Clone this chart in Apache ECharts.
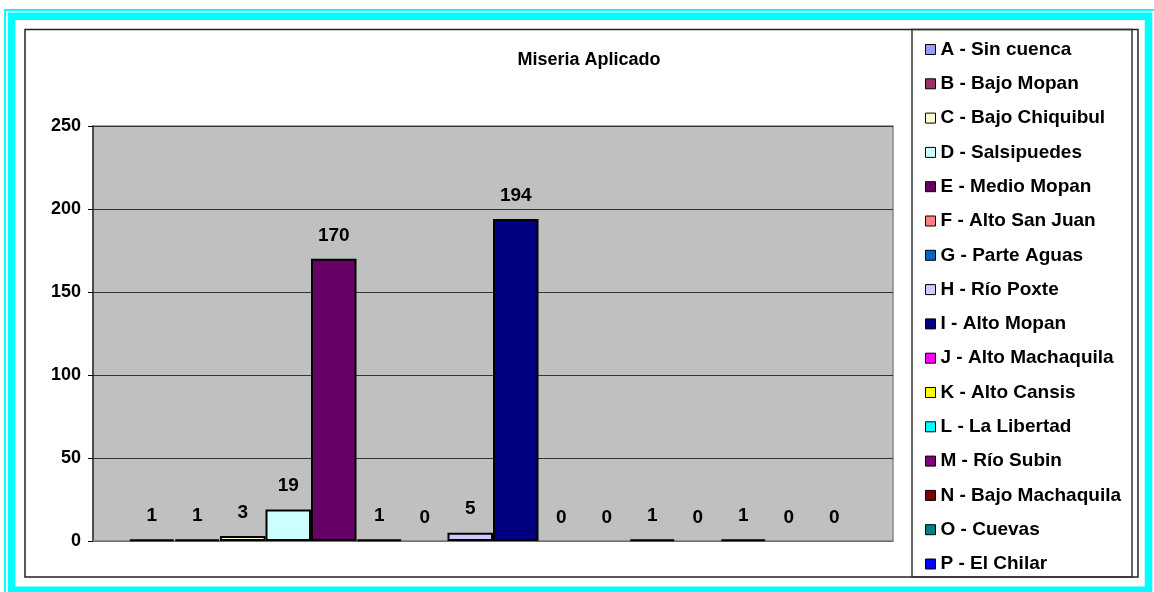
<!DOCTYPE html>
<html>
<head>
<meta charset="utf-8">
<script src="https://cdn.jsdelivr.net/npm/echarts@6/dist/echarts.min.js"></script>
<style>
  html, body { margin: 0; padding: 0; background: #fff; }
  #chart { width: 1154px; height: 592px; }
</style>
</head>
<body>
<div id="chart"></div>
<script>
// data
const titleText = 'Miseria Aplicado'
const seriesNames = [
  'A - Sin cuenca', 'B - Bajo Mopan', 'C - Bajo Chiquibul', 'D - Salsipuedes',
  'E - Medio Mopan', 'F - Alto San Juan', 'G - Parte Aguas', 'H - Río Poxte',
  'I - Alto Mopan', 'J - Alto Machaquila', 'K - Alto Cansis', 'L - La Libertad',
  'M - Río Subin', 'N - Bajo Machaquila', 'O - Cuevas', 'P - El Chilar'
]
const values = [1, 1, 3, 19, 170, 1, 0, 5, 194, 0, 0, 1, 0, 1, 0, 0]
const colors = [
  '#9999FF', '#993366', '#FFFFCC', '#CCFFFF', '#660066', '#FF8080', '#0066CC', '#CCCCFF',
  '#000080', '#FF00FF', '#FFFF00', '#00FFFF', '#800080', '#800000', '#008080', '#0000FF'
]
const yTicks = [0, 50, 100, 150, 200, 250]

const font = '"Liberation Sans", Arial, sans-serif'

const chart = echarts.init(document.getElementById('chart'))

const series = seriesNames.map((name, i) => ({
  name: name,
  type: 'bar',
  barGap: 0,
  barCategoryGap: '9%',
  data: [{
    value: values[i],
    itemStyle: values[i] === 0 ? { borderWidth: 0 } : {}
  }],
  itemStyle: {
    color: colors[i],
    borderColor: '#000',
    borderWidth: 2
  },
  label: {
    show: true,
    position: 'top',
    distance: 14,
    color: '#000',
    fontFamily: font,
    fontWeight: 'bold',
    fontSize: 19
  },
  emphasis: { disabled: true }
}))

const option = {
  animation: false,
  backgroundColor: '#fff',
  title: {
    text: titleText,
    left: 584,
    textAlign: 'center',
    top: 46,
    textStyle: {
      fontFamily: font,
      fontWeight: 'bold',
      fontSize: 18,
      color: '#000'
    }
  },
  legend: {
    orient: 'vertical',
    left: 920,
    top: 35,
    itemWidth: 10,
    itemHeight: 10,
    itemGap: 15.3,
    icon: 'rect',
    itemStyle: { borderColor: '#000', borderWidth: 1 },
    textStyle: {
      fontFamily: font,
      fontWeight: 'bold',
      fontSize: 19,
      color: '#000'
    },
    data: seriesNames
  },
  grid: {
    left: 93,
    right: 261,
    top: 126,
    bottom: 51,
    show: true,
    backgroundColor: '#C0C0C0',
    borderColor: '#888',
    borderWidth: 1.5
  },
  xAxis: {
    type: 'category',
    data: [''],
    axisLine: { show: true, lineStyle: { color: '#888', width: 1.5 } },
    axisTick: { show: false },
    axisLabel: { show: false }
  },
  yAxis: {
    type: 'value',
    min: yTicks[0],
    max: yTicks[yTicks.length - 1],
    interval: 50,
    axisLine: { show: true, lineStyle: { color: '#333', width: 1.5 } },
    axisTick: { show: true, length: 5, lineStyle: { color: '#000' } },
    axisLabel: {
      margin: 12,
      color: '#000',
      fontFamily: font,
      fontWeight: 'bold',
      fontSize: 18
    },
    splitLine: { show: true, lineStyle: { color: '#333', width: 1 } }
  },
  graphic: [
    {
      type: 'rect', silent: true, z: -1,
      shape: { x: 5, y: 10, width: 1152, height: 592 },
      style: { fill: 'none', stroke: '#00FFFF', lineWidth: 2 }
    },
    {
      type: 'rect', silent: true, z: -1,
      shape: { x: 11.5, y: 16.3, width: 1137, height: 574 },
      style: { fill: 'none', stroke: '#00FFFF', lineWidth: 7.5 }
    },
    {
      type: 'rect', silent: true, z: -1,
      shape: { x: 25, y: 29.5, width: 1113, height: 547.5 },
      style: { fill: 'none', stroke: '#222', lineWidth: 1.5 }
    },
    {
      type: 'rect', silent: true, z: -1,
      shape: { x: 912, y: 29.5, width: 220, height: 547.5 },
      style: { fill: 'none', stroke: '#333', lineWidth: 1.5 }
    }
  ],
  series: series
}

chart.setOption(option)
</script>
</body>
</html>
